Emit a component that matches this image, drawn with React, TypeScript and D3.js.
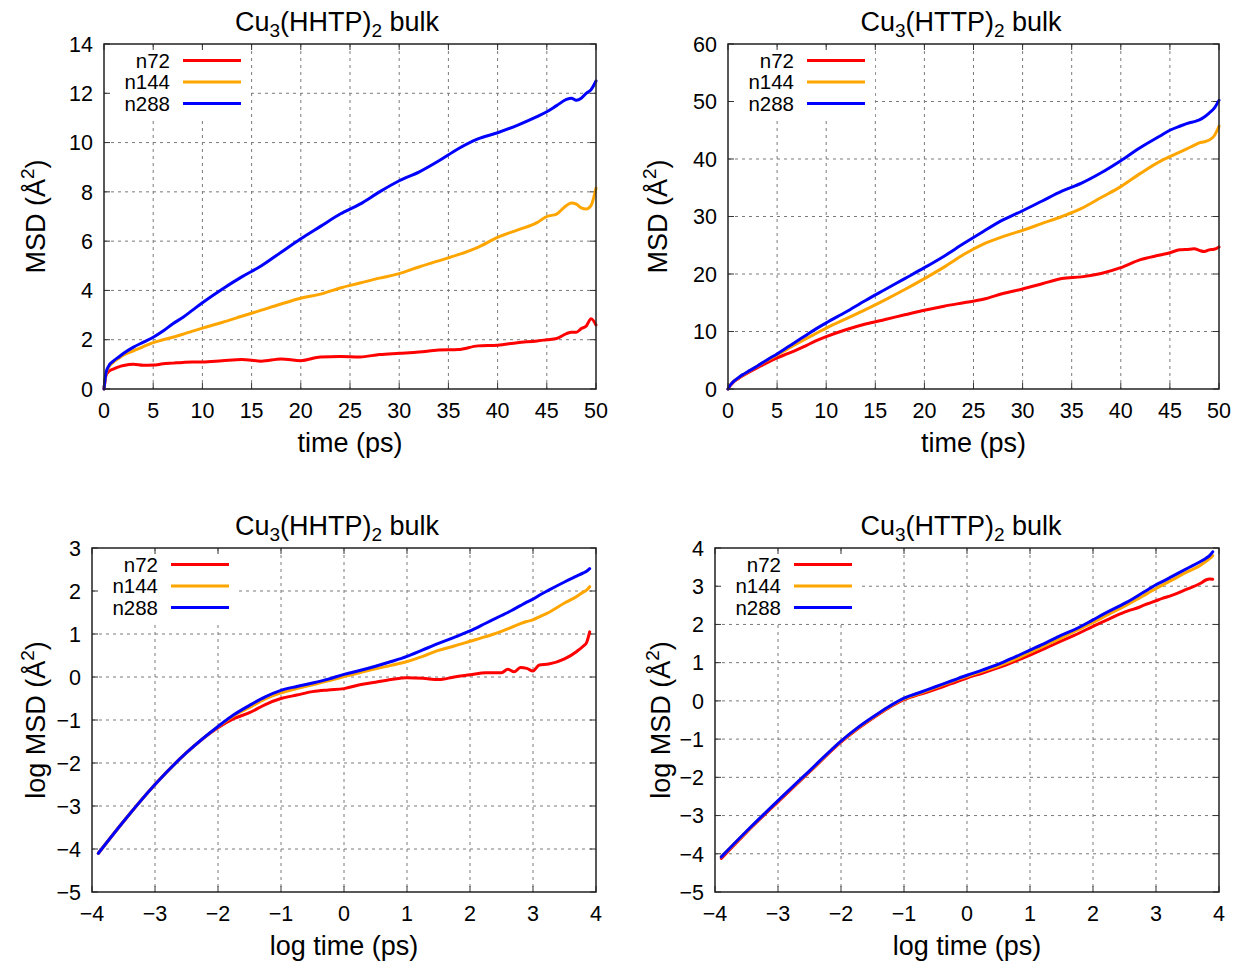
import React from 'react';
import * as d3 from 'd3';

const SERIES = ['n72', 'n144', 'n288'];
const COLORS = ['#ff0000', '#ffa500', '#0000ff'];

// linear time axis (ps)
const T_LIN = [0, 0.2, 0.5, 1, 1.5, 2, 3, 4, 5, 6, 7, 8, 9, 10, 12, 14, 16, 18, 20, 22, 24, 26, 28, 30, 32, 34, 36, 38, 40, 42, 44, 45, 46, 47, 47.5, 48, 48.5, 49, 49.5, 50];

const HHTP_N72 = [0, 0.55, 0.72, 0.82, 0.9, 0.95, 1.0, 0.96, 0.97, 1.02, 1.05, 1.08, 1.1, 1.1, 1.15, 1.2, 1.13, 1.22, 1.15, 1.3, 1.32, 1.3, 1.4, 1.45, 1.5, 1.58, 1.6, 1.75, 1.78, 1.88, 1.95, 2.0, 2.05, 2.25, 2.3, 2.3, 2.45, 2.55, 2.85, 2.6];
const HHTP_N144 = [0, 0.6, 0.9, 1.1, 1.25, 1.38, 1.55, 1.72, 1.88, 2.0, 2.1, 2.22, 2.35, 2.47, 2.7, 2.95, 3.2, 3.45, 3.68, 3.85, 4.1, 4.3, 4.5, 4.68, 4.95, 5.2, 5.45, 5.75, 6.15, 6.45, 6.75, 7.0, 7.1, 7.45, 7.55, 7.5, 7.35, 7.3, 7.45, 8.15];
const HHTP_N288 = [0, 0.65, 0.95, 1.15, 1.3, 1.45, 1.7, 1.9, 2.1, 2.35, 2.65, 2.9, 3.2, 3.5, 4.05, 4.55, 5.0, 5.55, 6.1, 6.6, 7.1, 7.5, 8.0, 8.45, 8.8, 9.25, 9.75, 10.15, 10.4, 10.7, 11.05, 11.25, 11.5, 11.75, 11.8, 11.72, 11.8, 12.0, 12.15, 12.5];

const HTTP_N72 = [0, 0.55, 1.1, 1.75, 2.3, 2.8, 3.7, 4.6, 5.4, 6.1, 6.8, 7.6, 8.4, 9.1, 10.3, 11.3, 12.1, 12.9, 13.7, 14.4, 15.0, 15.6, 16.6, 17.4, 18.3, 19.2, 19.5, 20.1, 21.1, 22.5, 23.3, 23.7, 24.2, 24.3, 24.4, 24.1, 23.9, 24.2, 24.3, 24.7];
const HTTP_N144 = [0, 0.6, 1.2, 1.85, 2.45, 2.95, 3.95, 5.0, 5.95, 6.9, 7.9, 8.8, 9.7, 10.6, 12.2, 13.8, 15.5, 17.3, 19.2, 21.2, 23.4, 25.2, 26.5, 27.6, 28.8, 30.0, 31.4, 33.3, 35.2, 37.5, 39.6, 40.4, 41.2, 42.0, 42.4, 42.8, 43.0, 43.3, 44.0, 45.7];
const HTTP_N288 = [0, 0.6, 1.2, 1.9, 2.5, 3.0, 4.0, 5.1, 6.1, 7.2, 8.3, 9.4, 10.5, 11.5, 13.4, 15.4, 17.3, 19.2, 21.1, 23.1, 25.3, 27.4, 29.4, 31.0, 32.7, 34.4, 35.8, 37.6, 39.7, 42.0, 44.0, 45.0, 45.7, 46.3, 46.5, 46.8, 47.3, 48.0, 48.8, 50.2];

// log time axis
const LOG_T = [-3.9, -3.5, -3, -2.5, -2, -1.75, -1.5, -1.25, -1, -0.75, -0.5, -0.25, 0, 0.25, 0.5, 0.75, 1, 1.25, 1.5, 1.75, 2, 2.25, 2.5, 2.6, 2.7, 2.8, 2.9, 3, 3.1, 3.25, 3.5, 3.7, 3.8, 3.85, 3.9];

const LOG_HHTP_N72 = [-4.1, -3.36, -2.5, -1.76, -1.18, -0.97, -0.83, -0.64, -0.5, -0.42, -0.34, -0.3, -0.27, -0.18, -0.12, -0.06, -0.02, -0.03, -0.06, 0.0, 0.05, 0.1, 0.1, 0.18, 0.12, 0.22, 0.2, 0.14, 0.28, 0.3, 0.42, 0.6, 0.72, 0.8, 1.05];
const LOG_HHTP_N144 = [-4.1, -3.36, -2.5, -1.76, -1.16, -0.9, -0.71, -0.51, -0.37, -0.27, -0.18, -0.09, 0.01, 0.1, 0.19, 0.27, 0.36, 0.48, 0.62, 0.72, 0.83, 0.94, 1.06, 1.12, 1.18, 1.24, 1.29, 1.33, 1.4, 1.5, 1.72, 1.88, 1.98, 2.02, 2.1];
const LOG_HHTP_N288 = [-4.1, -3.36, -2.5, -1.76, -1.15, -0.88, -0.66, -0.46, -0.31, -0.22, -0.14, -0.05, 0.06, 0.15, 0.25, 0.36, 0.48, 0.63, 0.78, 0.92, 1.07, 1.25, 1.43, 1.5, 1.58, 1.66, 1.74, 1.81, 1.9, 2.02, 2.21, 2.35, 2.42, 2.46, 2.52];

const LOG_HTTP_N72 = [-4.12, -3.44, -2.64, -1.86, -1.08, -0.75, -0.46, -0.19, 0.03, 0.17, 0.3, 0.45, 0.6, 0.73, 0.87, 1.03, 1.2, 1.38, 1.57, 1.75, 1.95, 2.14, 2.32, 2.38, 2.43, 2.5, 2.56, 2.62, 2.68, 2.76, 2.93, 3.07, 3.17, 3.19, 3.18];
const LOG_HTTP_N144 = [-4.08, -3.42, -2.62, -1.84, -1.06, -0.73, -0.44, -0.17, 0.05, 0.2, 0.35, 0.5, 0.64, 0.78, 0.92, 1.08, 1.27, 1.46, 1.65, 1.85, 2.05, 2.27, 2.48, 2.57, 2.66, 2.75, 2.85, 2.94, 3.03, 3.16, 3.38, 3.54, 3.66, 3.72, 3.8];
const LOG_HTTP_N288 = [-4.08, -3.41, -2.61, -1.83, -1.05, -0.72, -0.43, -0.16, 0.07, 0.22, 0.37, 0.52, 0.67, 0.81, 0.96, 1.14, 1.33, 1.52, 1.72, 1.9, 2.12, 2.34, 2.55, 2.64, 2.74, 2.84, 2.94, 3.04, 3.12, 3.25, 3.47, 3.64, 3.74, 3.8, 3.9];

const X_TICKS_LIN = [0, 5, 10, 15, 20, 25, 30, 35, 40, 45, 50];
const Y_TICKS_HHTP = [0, 2, 4, 6, 8, 10, 12, 14];
const Y_TICKS_HTTP = [0, 10, 20, 30, 40, 50, 60];
const X_TICKS_LOG = [-4, -3, -2, -1, 0, 1, 2, 3, 4];
const Y_TICKS_LOG_HHTP = [-5, -4, -3, -2, -1, 0, 1, 2, 3];
const Y_TICKS_LOG_HTTP = [-5, -4, -3, -2, -1, 0, 1, 2, 3, 4];

const FONT = 'Liberation Sans, Arial, Helvetica, sans-serif';
const fmt = (v: number) => (v < 0 ? '\u2212' + Math.abs(v) : String(v));

type PanelProps = {
  left: number; right: number; top: number; bottom: number;
  xs: number[]; ys: number[][];
  xTicks: number[]; yTicks: number[];
  compound: string; yLabel: string; xLabel: string; yLabelX: number; titleX: number;
};

function Panel(p: PanelProps) {
  const x = d3.scaleLinear().domain([p.xTicks[0], p.xTicks[p.xTicks.length - 1]]).range([p.left, p.right]);
  const y = d3.scaleLinear().domain([p.yTicks[0], p.yTicks[p.yTicks.length - 1]]).range([p.bottom, p.top]);
  const line = d3.line<number>().x((_, i) => x(p.xs[i])).y((d) => y(d)).curve(d3.curveMonotoneX);
  const cx = (p.left + p.right) / 2;
  const cy = (p.top + p.bottom) / 2;
  const tick = 6;
  const gridColor = '#7a7a7a';
  const rowGap = 21.5;
  return (
    <g fontFamily={FONT} fill="#000">
      {p.xTicks.slice(1, -1).map((t) => (
        <line key={'gx' + t} x1={x(t)} x2={x(t)} y1={p.top} y2={p.bottom} stroke={gridColor} strokeWidth={1} strokeDasharray="3,4" />
      ))}
      {p.yTicks.slice(1, -1).map((t) => (
        <line key={'gy' + t} x1={p.left} x2={p.right} y1={y(t)} y2={y(t)} stroke={gridColor} strokeWidth={1} strokeDasharray="3,4" />
      ))}
      <rect x={p.left + 3} y={p.top + 6} width={144} height={67} fill="#fff" />
      {p.xTicks.map((t) => (
        <g key={'tx' + t}>
          <line x1={x(t)} x2={x(t)} y1={p.bottom} y2={p.bottom - tick} stroke="#333" strokeWidth={1} />
          <line x1={x(t)} x2={x(t)} y1={p.top} y2={p.top + tick} stroke="#333" strokeWidth={1} />
          <text x={x(t)} y={p.bottom + 29} textAnchor="middle" fontSize={21.5}>{fmt(t)}</text>
        </g>
      ))}
      {p.yTicks.map((t) => (
        <g key={'ty' + t}>
          <line x1={p.left} x2={p.left + tick} y1={y(t)} y2={y(t)} stroke="#333" strokeWidth={1} />
          <line x1={p.right} x2={p.right - tick} y1={y(t)} y2={y(t)} stroke="#333" strokeWidth={1} />
          <text x={p.left - 11} y={y(t)} dy="0.36em" textAnchor="end" fontSize={21.5}>{fmt(t)}</text>
        </g>
      ))}
      {SERIES.map((s, i) => (
        <g key={'lg' + s}>
          <text x={p.left + 66} y={p.top + 16.5 + i * rowGap} dy="0.36em" textAnchor="end" fontSize={20.5}>{s}</text>
          <line x1={p.left + 79} x2={p.left + 137} y1={p.top + 16.5 + i * rowGap} y2={p.top + 16.5 + i * rowGap} stroke={COLORS[i]} strokeWidth={3} />
        </g>
      ))}
      {p.ys.map((ys, i) => (
        <path key={'s' + i} d={line(ys) || ''} fill="none" stroke={COLORS[i]} strokeWidth={3} strokeLinejoin="round" strokeLinecap="round" />
      ))}
      <rect x={p.left} y={p.top} width={p.right - p.left} height={p.bottom - p.top} fill="none" stroke="#222" strokeWidth={1.5} />
      <text x={p.titleX} y={p.top - 13} textAnchor="middle" fontSize={27}>
        Cu<tspan fontSize={19} dy={6}>3</tspan><tspan dy={-6}>({p.compound})</tspan><tspan fontSize={19} dy={6}>2</tspan><tspan dy={-6}> bulk</tspan>
      </text>
      <text x={cx} y={p.bottom + 63} textAnchor="middle" fontSize={27}>{p.xLabel}</text>
      <text transform={`translate(${p.yLabelX},${cy}) rotate(-90)`} textAnchor="middle" dy="0.36em" fontSize={27}>
        {p.yLabel} (Å<tspan fontSize={19} dy={-11}>2</tspan><tspan dy={11}>)</tspan>
      </text>
    </g>
  );
}

export default function App() {
  return (
    <svg width={1237} height={963} style={{ position: 'absolute', left: 0, top: 0, background: '#fff' }}>
      <rect x={0} y={0} width={1237} height={963} fill="#fff" />
      <Panel left={104} right={596} top={44} bottom={389} xs={T_LIN} ys={[HHTP_N72, HHTP_N144, HHTP_N288]} titleX={337}
        xTicks={X_TICKS_LIN} yTicks={Y_TICKS_HHTP} compound="HHTP" yLabel="MSD" xLabel="time (ps)" yLabelX={35} />
      <Panel left={728} right={1219} top={44} bottom={389} xs={T_LIN} ys={[HTTP_N72, HTTP_N144, HTTP_N288]} titleX={961}
        xTicks={X_TICKS_LIN} yTicks={Y_TICKS_HTTP} compound="HTTP" yLabel="MSD" xLabel="time (ps)" yLabelX={657} />
      <Panel left={92} right={596} top={548} bottom={892} xs={LOG_T} ys={[LOG_HHTP_N72, LOG_HHTP_N144, LOG_HHTP_N288]} titleX={337}
        xTicks={X_TICKS_LOG} yTicks={Y_TICKS_LOG_HHTP} compound="HHTP" yLabel="log MSD" xLabel="log time (ps)" yLabelX={35} />
      <Panel left={715} right={1219} top={548} bottom={892} xs={LOG_T} ys={[LOG_HTTP_N72, LOG_HTTP_N144, LOG_HTTP_N288]} titleX={961}
        xTicks={X_TICKS_LOG} yTicks={Y_TICKS_LOG_HTTP} compound="HTTP" yLabel="log MSD" xLabel="log time (ps)" yLabelX={660} />
    </svg>
  );
}
